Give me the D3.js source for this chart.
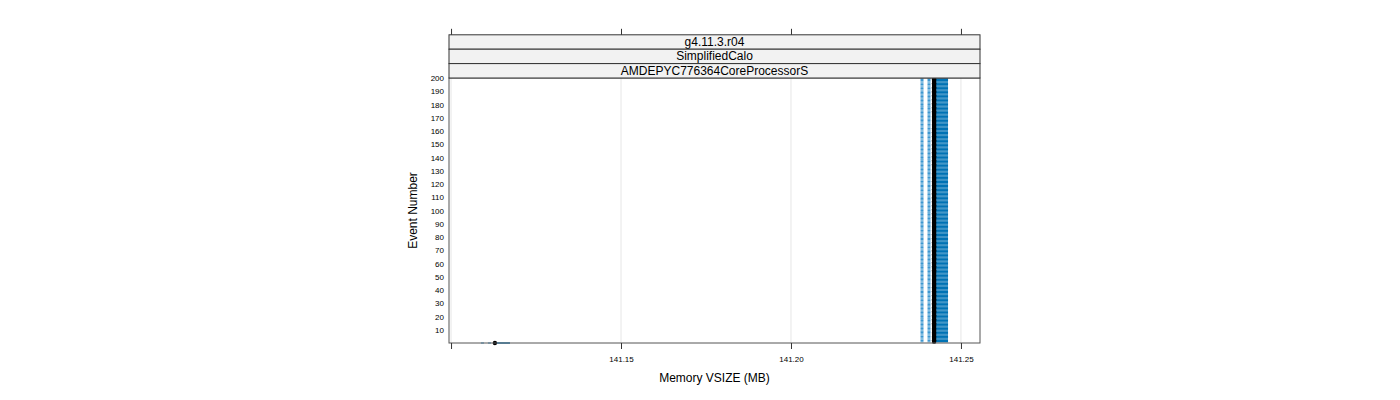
<!DOCTYPE html>
<html>
<head>
<meta charset="utf-8">
<script src="https://cdn.jsdelivr.net/npm/d3@7"></script>
<style>
  body { margin: 0; background: #fff; }
  text { font-family: "Liberation Sans", Arial, sans-serif; }
</style>
</head>
<body>
<div id="chart"></div>
<script>
// strip labels, top to bottom
const strips = ["g4.11.3.r04", "SimplifiedCalo", "AMDEPYC776364CoreProcessorS"];

// event groups: each row is a run of events sharing the same memory summary
const groupFirstEvent = [0, 1];
const groupLastEvent = [0, 200];
const lowMB = [141.1088, 141.2381];   // dashed part starts here
const medMB = [141.1129, 141.2421];   // black point
const highMB = [141.1173, 141.2462];  // solid part ends here

const xTicks = [141.10, 141.15, 141.20, 141.25];
const xTickLabels = ["", "141.15", "141.20", "141.25"];
const yTicks = [10, 20, 30, 40, 50, 60, 70, 80, 90, 100, 110, 120, 130, 140, 150, 160, 170, 180, 190, 200];

const width = 1400;
const height = 400;
const panel = { left: 449, right: 980, top: 78, bottom: 343 };
const stripH = 14.4;

const svg = d3
  .select("#chart")
  .append("svg")
  .attr("width", width)
  .attr("height", height);

const x = d3
  .scaleLinear()
  .domain([141.0994, 141.2556])
  .range([panel.left, panel.right]);

const y = d3
  .scaleLinear()
  .domain([0, 200])
  .range([panel.bottom, panel.top]);

// grid
svg
  .append("g")
  .selectAll("line")
  .data(xTicks)
  .enter()
  .append("line")
  .attr("x1", (d) => x(d))
  .attr("x2", (d) => x(d))
  .attr("y1", panel.top)
  .attr("y2", panel.bottom)
  .attr("stroke", "#e6e6e6")
  .attr("stroke-width", 1);

// expand groups into one row per event
const rows = [];
groupFirstEvent.forEach((first, i) => {
  d3.range(first, groupLastEvent[i] + 1).forEach((ev) => {
    rows.push({ ev: ev, low: lowMB[i], med: medMB[i], high: highMB[i] });
  });
});

const marks = svg.append("g");

marks
  .selectAll("line.low")
  .data(rows)
  .enter()
  .append("line")
  .attr("class", "low")
  .attr("x1", (d) => x(d.low))
  .attr("x2", (d) => x(d.med))
  .attr("y1", (d) => y(d.ev))
  .attr("y2", (d) => y(d.ev))
  .attr("stroke", "#3d97d0")
  .attr("stroke-width", 1.1)
  .attr("stroke-dasharray", "3,4");

marks
  .selectAll("line.high")
  .data(rows)
  .enter()
  .append("line")
  .attr("class", "high")
  .attr("x1", (d) => x(d.med))
  .attr("x2", (d) => x(d.high))
  .attr("y1", (d) => y(d.ev))
  .attr("y2", (d) => y(d.ev))
  .attr("stroke", "#0072b4")
  .attr("stroke-width", 1.3);

marks
  .selectAll("circle")
  .data(rows)
  .enter()
  .append("circle")
  .attr("cx", (d) => x(d.med))
  .attr("cy", (d) => y(d.ev))
  .attr("r", 2.2)
  .attr("fill", "#000");

// panel border
svg
  .append("rect")
  .attr("x", panel.left)
  .attr("y", panel.top)
  .attr("width", panel.right - panel.left)
  .attr("height", panel.bottom - panel.top)
  .attr("fill", "none")
  .attr("stroke", "#555")
  .attr("stroke-width", 1);

// strips
strips.forEach((label, i) => {
  const top = panel.top - stripH * (strips.length - i);
  svg
    .append("rect")
    .attr("x", panel.left)
    .attr("y", top)
    .attr("width", panel.right - panel.left)
    .attr("height", stripH)
    .attr("fill", "#f2f2f2")
    .attr("stroke", "#333")
    .attr("stroke-width", 1);
  svg
    .append("text")
    .attr("x", (panel.left + panel.right) / 2)
    .attr("y", top + stripH / 2 + 4)
    .attr("text-anchor", "middle")
    .style("font-size", "12px")
    .text(label);
});

// bottom axis
const xAxis = d3
  .axisBottom(x)
  .tickValues(xTicks)
  .tickSize(6)
  .tickFormat((d, i) => xTickLabels[i]);

const gx = svg
  .append("g")
  .attr("transform", `translate(0, ${panel.bottom})`)
  .call(xAxis);
gx.select(".domain").remove();
gx.selectAll("line").attr("stroke", "#333");
gx.selectAll("text").style("font-size", "8px").attr("fill", "#000").attr("dy", "1.2em");

// top axis ticks (above strips)
const stripTop = panel.top - stripH * strips.length;
const gxTop = svg
  .append("g")
  .attr("transform", `translate(0, ${stripTop})`)
  .call(d3.axisTop(x).tickValues(xTicks).tickSize(6).tickFormat(""));
gxTop.select(".domain").remove();
gxTop.selectAll("line").attr("stroke", "#333");

// left axis labels
const yAxis = d3.axisLeft(y).tickValues(yTicks).tickSize(0).tickPadding(5);
const gy = svg
  .append("g")
  .attr("transform", `translate(${panel.left}, 0)`)
  .call(yAxis);
gy.select(".domain").remove();
gy.selectAll("text").style("font-size", "8px").attr("fill", "#000");

// axis titles
svg
  .append("text")
  .attr("x", (panel.left + panel.right) / 2)
  .attr("y", 382)
  .attr("text-anchor", "middle")
  .style("font-size", "12px")
  .text("Memory VSIZE (MB)");

svg
  .append("text")
  .attr("transform", `translate(417, ${(panel.top + panel.bottom) / 2}) rotate(-90)`)
  .attr("text-anchor", "middle")
  .style("font-size", "12px")
  .text("Event Number");
</script>
</body>
</html>
